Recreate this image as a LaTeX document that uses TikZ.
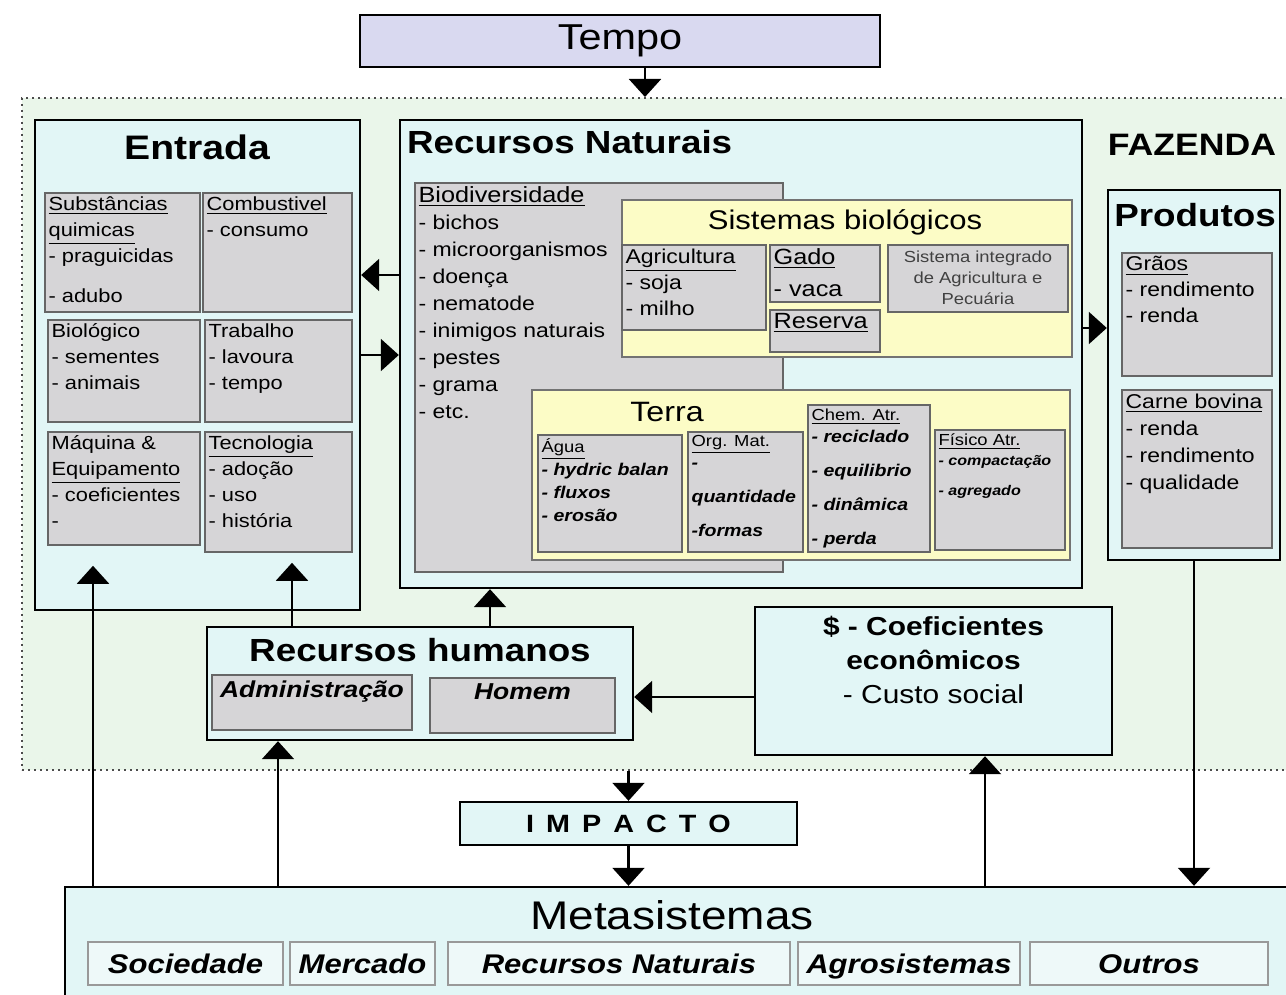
\documentclass[tikz,border=0pt]{standalone}
\usepackage{fontspec}
\setmainfont[FakeStretch=1.15]{Liberation Sans}
\usepackage{tikz}
\usetikzlibrary{arrows.meta,fit,calc}

\definecolor{fazgreen}{HTML}{EAF6EA}
\definecolor{boxcyan}{HTML}{E2F6F6}
\definecolor{boxgray}{HTML}{D6D5D7}
\definecolor{boxyellow}{HTML}{FCFCC6}
\definecolor{tempoblue}{HTML}{D9D9F0}
\definecolor{labcyan}{HTML}{EEF9F9}

\newcommand{\fs}[2]{\fontsize{#1}{#2}\selectfont}

\tikzset{
  frame/.style={draw, line width=1.2pt, inner sep=0pt, fill=boxcyan},
  graybox/.style={draw=black!60, line width=0.8pt, inner sep=0pt, fill=boxgray},
  yellowbox/.style={draw=black!55, line width=0.8pt, inner sep=0pt, fill=boxyellow},
  labbox/.style={draw=black!40, line width=0.6pt, inner sep=0pt, fill=labcyan},
  txt/.style={anchor=north west, inner sep=2pt, align=left},
  arr/.style={line width=1.1pt, -{Triangle[width=16pt,length=9pt]}},
}

\begin{document}
\begin{tikzpicture}[x=0.5pt,y=-0.5pt]
\useasboundingbox (0,0) rectangle (1286,995);

% main areas
\node[draw=black!70, dotted, line width=1pt, fill=fazgreen, inner sep=0pt, fit={(22,98) (1300,770)}] (fazenda) {};
\node[frame, fill=tempoblue, fit={(360,15) (880,67)}] (tempo) {};
\node[font=\fs{18}{20}] at (tempo.center) {Tempo};
\node[font=\bfseries\fs{15.5}{18}] at (1192,145) {FAZENDA};

% Entrada
\node[frame, fit={(35,120) (360,610)}] (entrada) {};
\node[font=\bfseries\fs{17}{20}] at (197,147) {Entrada};
\node[graybox, fit={(45,193) (200,312)}] (subst) {};
\node[graybox, fit={(203,193) (352,312)}] (comb) {};
\node[graybox, fit={(48,320) (200,422)}] (biol) {};
\node[graybox, fit={(205,320) (352,422)}] (trab) {};
\node[graybox, fit={(48,432) (200,545)}] (maq) {};
\node[graybox, fit={(205,432) (352,552)}] (tecno) {};
\node[txt, font=\fs{9.5}{13}] at (subst.north west) {\underline{Substâncias}\\\underline{quimicas}\\- praguicidas\\[7pt]- adubo};
\node[txt, font=\fs{9.5}{13}] at (comb.north west) {\underline{Combustivel}\\- consumo};
\node[txt, font=\fs{9.5}{13}] at (biol.north west) {Biológico\\- sementes\\- animais};
\node[txt, font=\fs{9.5}{13}] at (trab.north west) {Trabalho\\- lavoura\\- tempo};
\node[txt, font=\fs{9.5}{13}] at (maq.north west) {Máquina \&\\\underline{Equipamento}\\- coeficientes\\-};
\node[txt, font=\fs{9.5}{13}] at (tecno.north west) {\underline{Tecnologia}\\- adoção\\- uso\\- história};

% Recursos Naturais
\node[frame, fit={(400,120) (1082,588)}] (rn) {};
\node[anchor=west, font=\bfseries\fs{16}{18}] at (400,142) {Recursos Naturais};
\node[graybox, fit={(415,183) (783,572)}] (biodiv) {};
\node[txt, font=\fs{10}{13.5}] at (biodiv.north west) {{\fs{11}{13.5}\underline{Biodiversidade}}\\- bichos\\- microorganismos\\- doença\\- nematode\\- inimigos naturais\\- pestes\\- grama\\- etc.};
\node[yellowbox, fit={(622,200) (1072,357)}] (sisbio) {};
\node[font=\fs{13.5}{16}] at (845,222) {Sistemas biológicos};
\node[graybox, fit={(622,245) (766,330)}] (agric) {};
\node[graybox, fit={(770,245) (880,302)}] (gado) {};
\node[graybox, fit={(770,310) (880,352)}] (reserva) {};
\node[graybox, fit={(888,245) (1068,312)}] (sipa) {};
\node[txt, font=\fs{10}{13}] at (agric.north west) {\underline{Agricultura}\\- soja\\- milho};
\node[txt, font=\fs{11}{16}] at (gado.north west) {\underline{Gado}\\- vaca};
\node[txt, font=\fs{11}{16}] at (reserva.north west) {\underline{Reserva}};
\node[anchor=north, align=center, inner sep=3pt, font=\fs{8}{10.5}, text=black!75] at (sipa.north) {Sistema integrado\\de Agricultura e\\Pecuária};

\node[yellowbox, fit={(532,390) (1070,560)}] (terra) {};
\node[font=\fs{14}{16}] at (667,412) {Terra};
\node[graybox, fit={(538,435) (682,552)}] (agua) {};
\node[graybox, fit={(688,432) (803,552)}] (orgmat) {};
\node[graybox, fit={(808,405) (930,552)}] (chem) {};
\node[graybox, fit={(935,430) (1065,550)}] (fisico) {};
\node[txt, font=\bfseries\itshape\fs{8.5}{11.5}] at (agua.north west) {{\mdseries\upshape\fs{8}{11.5}\underline{Água}}\\- hydric balan\\- fluxos\\- erosão};
\node[txt, font=\bfseries\itshape\fs{8.5}{11}] at (orgmat.north west) {{\mdseries\upshape\fs{8}{11}\underline{Org. Mat.}}\\-\\[6pt]quantidade\\[6pt]-formas};
\node[txt, font=\bfseries\itshape\fs{8.5}{11}] at (chem.north west) {{\mdseries\upshape\fs{8}{11}\underline{Chem. Atr.}}\\- reciclado\\[6pt]- equilibrio\\[6pt]- dinâmica\\[6pt]- perda};
\node[txt, font=\bfseries\itshape\fs{7}{10}] at (fisico.north west) {{\mdseries\upshape\fs{8}{11}\underline{Físico Atr.}}\\- compactação\\[5pt]- agregado};

% Produtos
\node[frame, fit={(1108,190) (1280,560)}] (produtos) {};
\node[font=\bfseries\fs{16}{18}] at (1195,215) {Produtos};
\node[graybox, fit={(1122,253) (1272,376)}] (graos) {};
\node[graybox, fit={(1122,390) (1272,548)}] (carne) {};
\node[txt, font=\fs{10}{13}] at (graos.north west) {\underline{Grãos}\\- rendimento\\- renda};
\node[txt, font=\fs{10}{13.5}] at (carne.north west) {\underline{Carne bovina}\\- renda\\- rendimento\\- qualidade};

% Recursos humanos
\node[frame, fit={(207,627) (633,740)}] (rh) {};
\node[font=\bfseries\fs{16}{18}] at (420,650) {Recursos humanos};
\node[graybox, fit={(212,675) (412,730)}] (adm) {};
\node[graybox, fit={(430,678) (615,733)}] (homem) {};
\node[anchor=north, inner sep=3pt, font=\bfseries\itshape\fs{11.5}{13}] at (adm.north) {Administração};
\node[anchor=north, inner sep=3pt, font=\bfseries\itshape\fs{11.5}{13}] at (homem.north) {Homem};

% coeficientes
\node[frame, fit={(755,607) (1112,755)}] (coef) {};
\node[anchor=north, align=center, inner sep=5pt, font=\fs{13}{17}] at (coef.north) {\textbf{\$ - Coeficientes}\\\textbf{econômicos}\\- Custo social};

% impacto e metasistemas
\node[frame, fit={(460,802) (797,845)}] (impacto) {};
\node[font=\bfseries\fs{12.5}{14}] at (impacto.center) {I\hspace{6pt}M\hspace{6pt}P\hspace{6pt}A\hspace{6pt}C\hspace{6pt}T\hspace{6pt}O};
\node[frame, fit={(65,887) (1290,1010)}] (meta) {};
\node[font=\fs{20}{22}] at (672,915) {Metasistemas};
\node[labbox, fit={(88,942) (283,985)}] (soc) {};
\node[labbox, fit={(290,942) (435,985)}] (merc) {};
\node[labbox, fit={(448,942) (790,985)}] (rnat) {};
\node[labbox, fit={(798,942) (1020,985)}] (agro) {};
\node[labbox, fit={(1030,942) (1268,985)}] (outros) {};
\foreach \n/\t in {soc/Sociedade, merc/Mercado, rnat/Recursos Naturais, agro/Agrosistemas, outros/Outros}
  \node[anchor=base, font=\bfseries\itshape\fs{13.5}{16}, inner sep=0pt] at ($(\n.center)+(0,10)$) {\t};

% connectors
\coordinate (tp) at ($(tempo.south)+(25,0)$);
\coordinate (ya) at (0,275);
\coordinate (yb) at (0,355);
\coordinate (yc) at (0,328);
\coordinate (yd) at (0,697);
\coordinate (xa) at (292,0);
\coordinate (xb) at (490,0);
\coordinate (xc) at (93,0);
\coordinate (xd) at (278,0);
\coordinate (xe) at (985,0);
\draw[arr] (tp) -- (tp |- fazenda.north);
\draw[arr] (rn.west |- ya) -- (entrada.east |- ya);
\draw[arr] (entrada.east |- yb) -- (rn.west |- yb);
\draw[arr] (rn.east |- yc) -- (produtos.west |- yc);
\draw[arr, shorten >=5pt] (rh.north -| xa) -- (tecno.south -| xa);
\draw[arr] (rh.north -| xb) -- (rn.south -| xb);
\draw[arr] (coef.west |- yd) -- (rh.east |- yd);
\draw[arr] (fazenda.south -| impacto.north) -- (impacto.north);
\draw[arr] (impacto.south) -- (impacto.south |- meta.north);
\draw[arr, shorten >=10pt] (meta.north -| xc) -- (maq.south -| xc);
\draw[arr] (meta.north -| xd) -- (rh.south -| xd);
\draw[arr] (meta.north -| xe) -- (coef.south -| xe);
\draw[arr] (produtos.south) -- (produtos.south |- meta.north);
\end{tikzpicture}
\end{document}
